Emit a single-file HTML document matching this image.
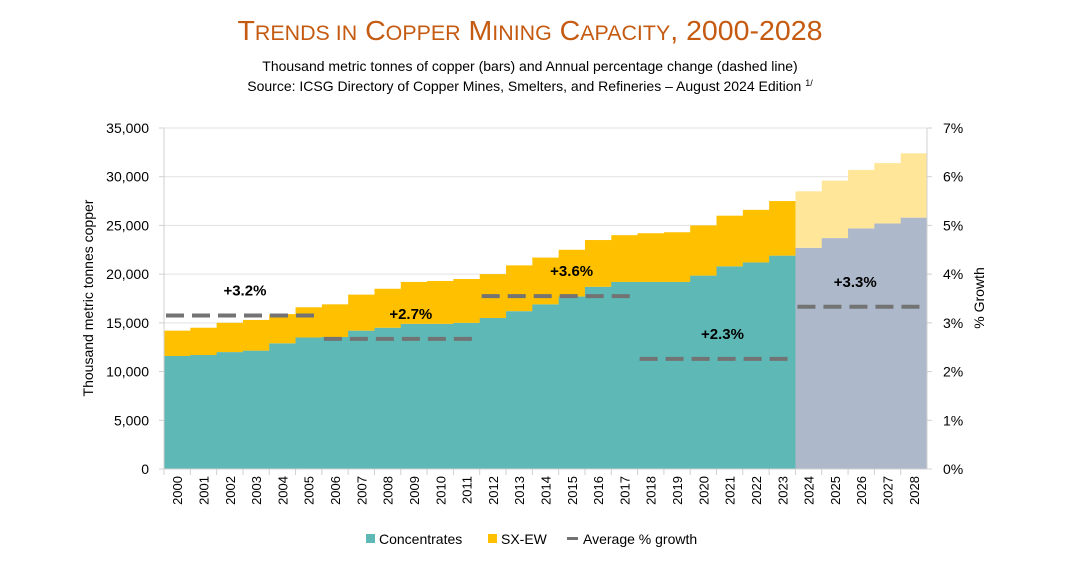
<!DOCTYPE html>
<html><head><meta charset="utf-8"><style>
body{margin:0;background:#fff;width:1080px;height:559px;overflow:hidden;font-family:"Liberation Sans",Arial,sans-serif}
</style></head><body>
<svg id="chart" width="1080" height="559" xmlns="http://www.w3.org/2000/svg" font-family="Liberation Sans, Arial, sans-serif">
<text x="530" y="40" text-anchor="middle" fill="#C55A11" font-size="28" textLength="585" lengthAdjust="spacingAndGlyphs">T<tspan font-size="21">RENDS IN</tspan> C<tspan font-size="21">OPPER</tspan> M<tspan font-size="21">INING</tspan> C<tspan font-size="21">APACITY</tspan>, 2000-2028</text>
<text x="530" y="71" text-anchor="middle" font-size="14" fill="#000">Thousand metric tonnes of copper (bars) and Annual percentage change (dashed line)</text>
<text x="530" y="91" text-anchor="middle" font-size="14" fill="#000">Source: ICSG Directory of Copper Mines, Smelters, and Refineries – August 2024 Edition <tspan font-size="9" dy="-5">1/</tspan></text>
<g id="grid"></g><g id="bars"></g><g id="avg"></g><g id="axes"></g>
<text transform="translate(93,298) rotate(-90)" text-anchor="middle" font-size="14">Thousand metric tonnes copper</text>
<text transform="translate(984,298) rotate(-90)" text-anchor="middle" font-size="14">% Growth</text>
<g font-size="14">
<rect x="366" y="534" width="9" height="9" fill="#5EB9B6"/>
<text x="379" y="544">Concentrates</text>
<rect x="488" y="534" width="9" height="9" fill="#FFC000"/>
<text x="501" y="544">SX-EW</text>
<line x1="567" y1="538.5" x2="578" y2="538.5" stroke="#737373" stroke-width="3"/>
<text x="583" y="544">Average % growth</text>
</g>
</svg>
<script>
const years=[2000,2001,2002,2003,2004,2005,2006,2007,2008,2009,2010,2011,2012,2013,2014,2015,2016,2017,2018,2019,2020,2021,2022,2023,2024,2025,2026,2027,2028];
const concentrates=[11.6,11.7,12.0,12.15,12.9,13.5,13.55,14.2,14.5,14.9,14.9,15.0,15.5,16.2,16.9,17.7,18.7,19.2,19.2,19.2,19.85,20.8,21.2,21.9,22.7,23.7,24.7,25.2,25.8];
const totals=[14.2,14.5,15.0,15.3,15.9,16.6,16.9,17.9,18.5,19.2,19.3,19.5,20.0,20.9,21.7,22.5,23.5,24.0,24.2,24.3,25.0,26.0,26.6,27.5,28.5,29.6,30.7,31.4,32.4];
const forecastFrom=2024;
const avgStart=[2000,2006,2012,2018,2024];
const avgEnd=[2005,2011,2017,2023,2028];
const avgValues=[3.15,2.67,3.55,2.26,3.33];
const avgLabels=["+3.2%","+2.7%","+3.6%","+2.3%","+3.3%"];
const leftTicks=[0,5000,10000,15000,20000,25000,30000,35000];
const rightTicks=[0,1,2,3,4,5,6,7];
const labelDx=[3,11,14,7,-5];
const L=164,R=927,T=128,B=469;
const bw=(R-L)/years.length;
const y=v=>B-(v/35)*(B-T);
const yp=p=>B-(p/7)*(B-T);
const xi=i=>L+i*bw;
const NS="http://www.w3.org/2000/svg";
function mk(tag,parent,attrs){const e=document.createElementNS(NS,tag);for(const k in attrs)e.setAttribute(k,attrs[k]);parent.appendChild(e);return e;}
const grid=document.getElementById('grid'),bars=document.getElementById('bars'),avg=document.getElementById('avg'),axes=document.getElementById('axes');
leftTicks.forEach(t=>{const yy=y(t/1000);
 if(t>0){const g=mk('line',grid,{x1:L,x2:R,y1:yy,y2:yy,stroke:'#e2e2e2','stroke-width':1});
 
 }
 const tx=mk('text',axes,{x:149,y:yy+5,'text-anchor':'end','font-size':14});tx.textContent=t.toLocaleString('en-US');
 
 
 mk('line',axes,{x1:L-5,x2:L,y1:yy,y2:yy,stroke:'#d0d0d0'});
});
rightTicks.forEach(t=>{const yy=yp(t);
 const tx=mk('text',axes,{x:943,y:yy+5,'font-size':14});tx.textContent=t+'%';
 
 
 mk('line',axes,{x1:R,x2:R+5,y1:yy,y2:yy,stroke:'#d0d0d0'});
});
years.forEach((yr,i)=>{
 const fc=yr>=forecastFrom;
 const c=mk('rect',bars,{x:xi(i),width:bw+0.5,y:y(concentrates[i]),height:B-y(concentrates[i]),fill:fc?'#ADB8CA':'#5EB9B6'});
 
 
 const s=mk('rect',bars,{x:xi(i),width:bw+0.5,y:y(totals[i]),height:y(concentrates[i])-y(totals[i]),fill:fc?'#FFE699':'#FFC000'});
 
 
 const tx=mk('text',axes,{transform:`translate(${xi(i)+bw/2+5},${B+7}) rotate(-90)`,'text-anchor':'end','font-size':13});tx.textContent=yr;
 
 
 mk('line',axes,{x1:xi(i),x2:xi(i),y1:B,y2:B+6,stroke:'#d0d0d0'});
});
mk('line',axes,{x1:L,x2:L,y1:T,y2:B,stroke:'#d0d0d0'});
mk('line',axes,{x1:R,x2:R,y1:T,y2:B,stroke:'#d0d0d0'});
mk('line',axes,{x1:L,x2:R,y1:B,y2:B,stroke:'#d0d0d0'});
mk('line',axes,{x1:L,x2:R,y1:T,y2:T,stroke:'#e2e2e2'});
avgValues.forEach((v,k)=>{
 const i0=years.indexOf(avgStart[k]),i1=years.indexOf(avgEnd[k]);
 const x1=xi(i0)+2,x2=xi(i1)+bw-4,yy=yp(v);
 const l=mk('line',avg,{x1,x2,y1:yy,y2:yy,stroke:'#737373','stroke-width':4,'stroke-dasharray':'18 8'});
 
 
 const tx=mk('text',avg,{x:(x1+x2)/2+labelDx[k],y:yy-20,'text-anchor':'middle','font-size':15,'font-weight':'bold'});
 tx.textContent=avgLabels[k];
 
 
});
</script>
</body></html>
